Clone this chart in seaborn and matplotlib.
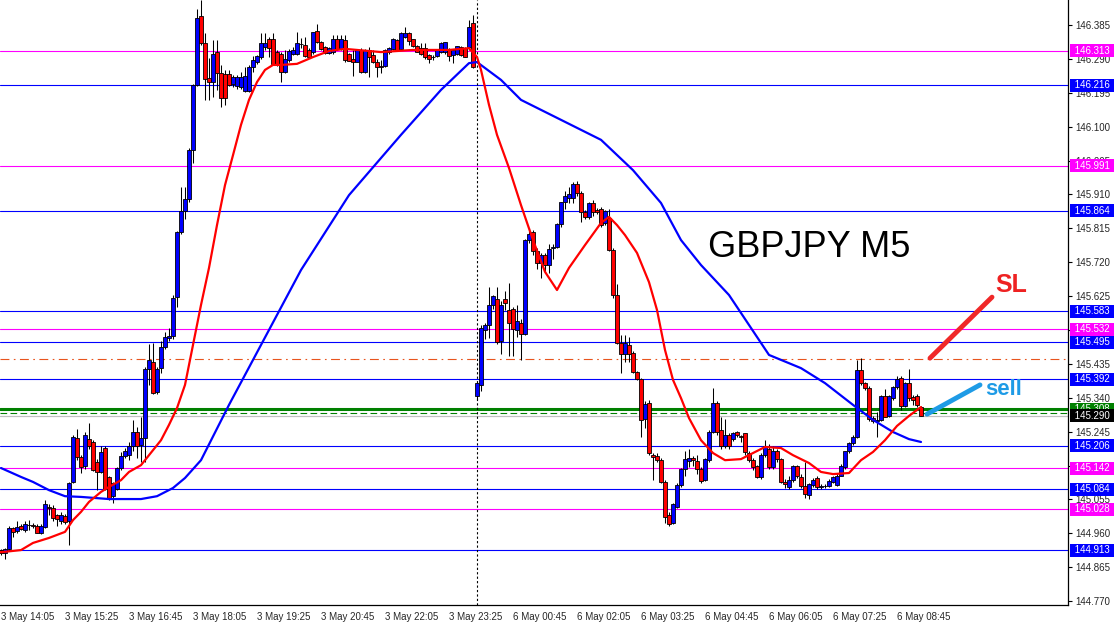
import numpy as np
import matplotlib
matplotlib.use("Agg")
import matplotlib.pyplot as plt
import matplotlib.transforms as mtransforms
import seaborn as sns

sns.set_style("white")
plt.rcParams["font.family"] = ["Liberation Sans", "DejaVu Sans"]

# GBPJPY M5 candles, 3 May 14:05 .. 6 May 09:15
opens = [
    144.912, 144.906, 144.915, 144.975, 144.966, 144.980, 144.970, 144.982, 144.983, 144.980,
    144.962, 144.978, 145.035, 145.030, 145.012, 144.995, 145.008, 144.995, 145.105, 145.228,
    145.175, 145.148, 145.225, 145.215, 145.160, 145.132, 145.200, 145.118, 145.065, 145.084,
    145.142, 145.178, 145.180, 145.205, 145.243, 145.208, 145.228, 145.420, 145.440, 145.355,
    145.423, 145.482, 145.508, 145.512, 145.622, 145.805, 145.864, 145.897, 146.035, 146.218,
    146.410, 146.335, 146.236, 146.226, 146.310, 146.249, 146.247, 146.248, 146.220, 146.214,
    146.210, 146.201, 146.201, 146.268, 146.282, 146.296, 146.322, 146.345, 146.345, 146.310,
    146.305, 146.254, 146.287, 146.303, 146.305, 146.332, 146.329, 146.315, 146.310, 146.369,
    146.338, 146.324, 146.307, 146.310, 146.345, 146.317, 146.343, 146.305, 146.291, 146.282,
    146.315, 146.254, 146.315, 146.301, 146.282, 146.270, 146.270, 146.310, 146.317, 146.343,
    146.317, 146.352, 146.362, 146.345, 146.326, 146.320, 146.320, 146.301, 146.294, 146.298,
    146.310, 146.310, 146.317, 146.300, 146.304, 146.324, 146.320, 146.324, 146.391, 145.345,
    145.375, 145.530, 145.545, 145.600, 145.618, 145.500, 145.618, 145.585, 145.588, 145.530,
    145.550, 145.520, 145.783, 145.805, 145.750, 145.718, 145.740, 145.712, 145.760, 145.763,
    145.827, 145.889, 145.900, 145.900, 145.938, 145.915, 145.860, 145.847, 145.887, 145.866,
    145.870, 145.830, 145.845, 145.755, 145.628, 145.493, 145.463, 145.487, 145.465, 145.412,
    145.392, 145.280, 145.325, 145.180, 145.178, 145.165, 145.105, 145.012, 144.990, 145.035,
    145.095, 145.140, 145.162, 145.170, 145.163, 145.140, 145.110, 145.165, 145.245, 145.325,
    145.250, 145.205, 145.235, 145.225, 145.245, 145.234, 145.240, 145.185, 145.165, 145.150,
    145.118, 145.180, 145.196, 145.145, 145.190, 145.168, 145.105, 145.090, 145.110, 145.148,
    145.118, 145.093, 145.068, 145.095, 145.115, 145.090, 145.093, 145.092, 145.104, 145.095,
    145.122, 145.145, 145.190, 145.212, 145.230, 145.418, 145.380, 145.368, 145.283, 145.276,
    145.278, 145.345, 145.290, 145.340, 145.370, 145.395, 145.318, 145.380, 145.343, 145.345,
    145.315,
]
highs = [
    144.916, 144.918, 144.980, 144.978, 144.995, 144.985, 144.995, 144.997, 144.990, 144.985,
    144.985, 145.053, 145.042, 145.040, 145.015, 145.020, 145.015, 145.105, 145.235, 145.252,
    145.180, 145.245, 145.269, 145.222, 145.167, 145.205, 145.205, 145.120, 145.105, 145.145,
    145.187, 145.200, 145.215, 145.278, 145.257, 145.286, 145.425, 145.490, 145.493, 145.425,
    145.500, 145.525, 145.535, 145.628, 145.808, 145.931, 145.931, 146.040, 146.220, 146.430,
    146.455, 146.362, 146.293, 146.343, 146.343, 146.273, 146.259, 146.259, 146.245, 146.245,
    146.254, 146.268, 146.273, 146.298, 146.300, 146.362, 146.362, 146.352, 146.362, 146.315,
    146.310, 146.315, 146.317, 146.324, 146.366, 146.348, 146.352, 146.320, 146.366, 146.388,
    146.340, 146.326, 146.324, 146.357, 146.357, 146.357, 146.357, 146.307, 146.315, 146.317,
    146.320, 146.317, 146.324, 146.315, 146.291, 146.287, 146.317, 146.324, 146.348, 146.345,
    146.366, 146.380, 146.366, 146.347, 146.328, 146.334, 146.334, 146.305, 146.301, 146.317,
    146.336, 146.338, 146.320, 146.315, 146.326, 146.326, 146.322, 146.399, 146.413, 145.385,
    145.545, 145.550, 145.650, 145.628, 145.650, 145.610, 145.640, 145.662, 145.595, 145.600,
    145.560, 145.785, 145.815, 145.810, 145.760, 145.745, 145.745, 145.770, 145.770, 145.830,
    145.890, 145.920, 145.930, 145.945, 145.948, 145.920, 145.865, 145.890, 145.895, 145.872,
    145.875, 145.866, 145.870, 145.760, 145.660, 145.515, 145.515, 145.510, 145.470, 145.415,
    145.395, 145.330, 145.335, 145.185, 145.185, 145.170, 145.110, 145.020, 145.045, 145.100,
    145.142, 145.190, 145.195, 145.178, 145.180, 145.145, 145.170, 145.250, 145.367, 145.330,
    145.285, 145.280, 145.240, 145.245, 145.248, 145.236, 145.242, 145.190, 145.170, 145.152,
    145.185, 145.222, 145.210, 145.205, 145.195, 145.170, 145.112, 145.120, 145.152, 145.152,
    145.125, 145.160, 145.100, 145.115, 145.120, 145.097, 145.098, 145.112, 145.122, 145.128,
    145.155, 145.192, 145.215, 145.235, 145.445, 145.451, 145.385, 145.372, 145.288, 145.300,
    145.348, 145.365, 145.348, 145.372, 145.400, 145.400, 145.385, 145.420, 145.348, 145.350,
    145.318,
]
lows = [
    144.898, 144.888, 144.912, 144.950, 144.962, 144.968, 144.965, 144.968, 144.975, 144.960,
    144.958, 144.975, 145.010, 144.995, 144.980, 144.985, 144.985, 144.927, 145.100, 145.165,
    145.128, 145.140, 145.195, 145.135, 145.080, 145.130, 145.082, 145.053, 145.045, 145.080,
    145.138, 145.170, 145.165, 145.190, 145.170, 145.160, 145.160, 145.376, 145.350, 145.350,
    145.410, 145.478, 145.500, 145.505, 145.595, 145.800, 145.840, 145.890, 145.998, 146.215,
    146.330, 146.175, 146.175, 146.184, 146.203, 146.156, 146.161, 146.214, 146.210, 146.205,
    146.205, 146.198, 146.198, 146.254, 146.275, 146.291, 146.315, 146.296, 146.273, 146.271,
    146.226, 146.249, 146.280, 146.300, 146.301, 146.320, 146.296, 146.294, 146.305, 146.334,
    146.315, 146.305, 146.304, 146.305, 146.315, 146.315, 146.282, 146.283, 146.242, 146.280,
    146.251, 146.251, 146.238, 146.278, 146.240, 146.251, 146.268, 146.305, 146.315, 146.312,
    146.315, 146.348, 146.329, 146.324, 146.308, 146.301, 146.291, 146.277, 146.287, 146.294,
    146.307, 146.305, 146.285, 146.277, 146.300, 146.299, 146.296, 146.315, 146.263, 145.335,
    145.360, 145.505, 145.508, 145.590, 145.490, 145.463, 145.585, 145.458, 145.458, 145.510,
    145.447, 145.515, 145.775, 145.740, 145.700, 145.676, 145.690, 145.690, 145.730, 145.760,
    145.820, 145.870, 145.885, 145.885, 145.905, 145.832, 145.840, 145.840, 145.850, 145.855,
    145.818, 145.825, 145.750, 145.620, 145.490, 145.410, 145.440, 145.440, 145.410, 145.390,
    145.230, 145.255, 145.180, 145.110, 145.160, 145.100, 144.990, 144.980, 144.985, 145.030,
    145.090, 145.120, 145.145, 145.150, 145.125, 145.100, 145.108, 145.160, 145.240, 145.235,
    145.195, 145.200, 145.195, 145.220, 145.230, 145.215, 145.180, 145.160, 145.138, 145.115,
    145.112, 145.175, 145.140, 145.140, 145.160, 145.100, 145.088, 145.085, 145.105, 145.115,
    145.088, 145.060, 145.055, 145.090, 145.085, 145.085, 145.088, 145.090, 145.100, 145.093,
    145.120, 145.140, 145.185, 145.208, 145.228, 145.375, 145.362, 145.275, 145.270, 145.230,
    145.275, 145.285, 145.285, 145.335, 145.365, 145.305, 145.315, 145.330, 145.320, 145.315,
    145.290,
]
closes = [
    144.906, 144.915, 144.975, 144.965, 144.978, 144.972, 144.985, 144.984, 144.981, 144.962,
    144.980, 145.042, 145.030, 145.003, 145.000, 145.012, 144.993, 145.100, 145.230, 145.175,
    145.145, 145.236, 145.205, 145.138, 145.132, 145.188, 145.085, 145.060, 145.100, 145.142,
    145.178, 145.190, 145.205, 145.243, 145.205, 145.228, 145.420, 145.445, 145.353, 145.420,
    145.482, 145.510, 145.512, 145.620, 145.805, 145.863, 145.897, 146.035, 146.218, 146.405,
    146.335, 146.234, 146.226, 146.305, 146.249, 146.179, 146.180, 146.217, 146.238, 146.238,
    146.240, 146.242, 146.268, 146.287, 146.298, 146.334, 146.335, 146.320, 146.276, 146.273,
    146.254, 146.289, 146.313, 146.315, 146.334, 146.331, 146.298, 146.296, 146.366, 146.336,
    146.317, 146.307, 146.320, 146.345, 146.317, 146.345, 146.287, 146.285, 146.282, 146.315,
    146.254, 146.315, 146.296, 146.280, 146.268, 146.268, 146.315, 146.321, 146.345, 146.315,
    146.362, 146.362, 146.341, 146.326, 146.310, 146.305, 146.296, 146.291, 146.295, 146.315,
    146.334, 146.336, 146.298, 146.315, 146.326, 146.301, 146.296, 146.380, 146.268, 145.380,
    145.536, 145.545, 145.600, 145.625, 145.496, 145.600, 145.605, 145.550, 145.532, 145.555,
    145.520, 145.783, 145.798, 145.750, 145.718, 145.740, 145.712, 145.757, 145.763, 145.827,
    145.889, 145.905, 145.912, 145.940, 145.915, 145.860, 145.847, 145.887, 145.860, 145.860,
    145.825, 145.864, 145.755, 145.628, 145.493, 145.462, 145.493, 145.463, 145.412, 145.392,
    145.277, 145.323, 145.185, 145.175, 145.166, 145.105, 145.005, 144.985, 145.042, 145.095,
    145.140, 145.168, 145.170, 145.165, 145.140, 145.108, 145.168, 145.245, 145.325, 145.243,
    145.205, 145.235, 145.205, 145.240, 145.235, 145.230, 145.188, 145.165, 145.145, 145.118,
    145.180, 145.205, 145.145, 145.190, 145.168, 145.105, 145.097, 145.110, 145.148, 145.120,
    145.093, 145.070, 145.098, 145.110, 145.090, 145.093, 145.092, 145.108, 145.118, 145.122,
    145.150, 145.190, 145.212, 145.230, 145.418, 145.382, 145.368, 145.280, 145.275, 145.278,
    145.345, 145.287, 145.345, 145.370, 145.392, 145.318, 145.380, 145.340, 145.335, 145.320,
    145.290,
]

# moving averages (bar index, price)
fast_ma_bar = [0, 5, 8, 12, 16, 18, 20, 22, 25, 27, 30, 32, 35, 37, 40, 42, 44, 46, 48, 50,
               52, 54, 56, 58, 60, 62, 64, 66, 68, 70, 74, 78, 82, 86, 95, 103, 112, 117, 119,
               120, 122, 124, 127, 130, 133, 136, 139, 142, 146, 150, 152, 154, 156, 159, 162,
               164, 166, 168, 170, 172, 175, 178, 181, 185, 188, 191, 195, 198, 202, 205, 208,
               212, 215, 218, 221, 224, 227, 230]
fast_ma = [144.907, 144.913, 144.933, 144.947, 144.964, 144.997, 145.020, 145.048, 145.076,
           145.090, 145.109, 145.132, 145.151, 145.179, 145.221, 145.264, 145.311, 145.376,
           145.488, 145.600, 145.704, 145.824, 145.936, 146.020, 146.105, 146.175, 146.225,
           146.259, 146.273, 146.273, 146.276, 146.295, 146.312, 146.318, 146.309, 146.315,
           146.315, 146.320, 146.295, 146.259, 146.161, 146.077, 145.984, 145.880, 145.782,
           145.693, 145.642, 145.704, 145.768, 145.830, 145.847, 145.824, 145.796, 145.746,
           145.664, 145.586, 145.474, 145.390, 145.339, 145.283, 145.221, 145.185, 145.165,
           145.168, 145.185, 145.202, 145.199, 145.179, 145.157, 145.132, 145.126, 145.129,
           145.165, 145.188, 145.221, 145.261, 145.289, 145.314]
slow_ma_bar = [0, 5, 8, 12, 16, 20, 27, 35, 39, 43, 46, 50, 57, 65, 75, 87, 100, 110, 117,
               119, 125, 130, 140, 150, 158, 165, 170, 175, 182, 187, 192, 200, 206, 213, 218,
               223, 227, 230]
slow_ma = [145.143, 145.118, 145.104, 145.081, 145.064, 145.062, 145.056, 145.056, 145.064,
           145.087, 145.115, 145.165, 145.320, 145.488, 145.698, 145.908, 146.077, 146.203,
           146.278, 146.281, 146.231, 146.175, 146.119, 146.063, 145.978, 145.886, 145.782,
           145.712, 145.628, 145.544, 145.460, 145.423, 145.381, 145.320, 145.278, 145.244,
           145.224, 145.216]

# horizontal levels with their right-hand price tags
blue_levels = [146.216, 145.864, 145.583, 145.495, 145.392, 145.206, 145.084, 144.913]
magenta_levels = [146.313, 145.991, 145.532, 145.142, 145.028]
open_price = 145.308
open_dashed = 145.297
bid_price = 145.290
stop_dashdot = 145.448

x_tick_labels = ["3 May 14:05", "3 May 15:25", "3 May 16:45", "3 May 18:05", "3 May 19:25",
                 "3 May 20:45", "3 May 22:05", "3 May 23:25", "6 May 00:45", "6 May 02:05",
                 "6 May 03:25", "6 May 04:45", "6 May 06:05", "6 May 07:25", "6 May 08:45"]
y_tick_values = [146.385, 146.290, 146.195, 146.100, 146.005, 145.910, 145.815, 145.720,
                 145.625, 145.530, 145.435, 145.340, 145.245, 145.150, 145.055, 144.960,
                 144.865, 144.770]

o, h, l, c = (np.array(v) for v in (opens, highs, lows, closes))
bars = np.arange(len(o))

fig = plt.figure(figsize=(11.14, 6.26), dpi=100)
ax = fig.add_axes([0, 21 / 626, 1068 / 1114, 605 / 626])

for p in blue_levels:
    ax.axhline(p, color="#0000ff", lw=0.8, zorder=1)
for p in magenta_levels:
    ax.axhline(p, color="#ff00ff", lw=0.8, zorder=1)
ax.axhline(stop_dashdot, color="#e8541e", lw=0.8, ls=(0, (8, 4, 1.5, 4)), zorder=1)
ax.axhline(bid_price, color="#c0c0c0", lw=0.9, zorder=1)
ax.axhline(open_dashed, color="#008000", lw=0.8, ls=(0, (6, 3)), zorder=1)
ax.axhline(open_price, color="#008000", lw=2.2, zorder=1)
ax.axvline(119, color="black", lw=0.8, ls=(0, (2, 2)), zorder=1)

# candles
up = c >= o
ax.vlines(bars, l, h, color="black", lw=0.75, zorder=3)
ax.bar(bars, np.maximum(np.abs(c - o), 0.0015), bottom=np.minimum(o, c), width=0.8,
       color=np.where(up, "#0000ff", "#ff0000"), edgecolor="black", linewidth=0.6, zorder=4)

sns.lineplot(x=slow_ma_bar, y=slow_ma, ax=ax, color="#0000ff", lw=1.6, zorder=5)
sns.lineplot(x=fast_ma_bar, y=fast_ma, ax=ax, color="#ff0000", lw=1.6, zorder=5)

# hand-drawn trade marks
ax.plot([232.25, 247.75], [145.451, 145.622], color="#f02828", lw=3.5, solid_capstyle="round", zorder=6)
ax.plot([231.5, 244.75], [145.294, 145.376], color="#1e9be6", lw=3.5, solid_capstyle="round", zorder=6)
ax.text(248.5, 145.656, "SL", color="#ee2222", fontsize=18, fontweight="bold", va="center", zorder=6)
ax.text(246, 145.362, "sell", color="#1e9be6", fontsize=16, fontweight="bold", va="center", zorder=6)
ax.text(176.75, 145.760, "GBPJPY M5", color="black", fontsize=26, va="center", zorder=6)

ax.set_xlim(-0.25, 266.75)
ax.set_ylim(144.759, 146.455)
ax.set_xlabel("")
ax.set_ylabel("")

ax.set_xticks(np.arange(len(x_tick_labels)) * 16)
ax.set_xticklabels(x_tick_labels, ha="left", fontsize=7)
ax.yaxis.tick_right()
ax.set_yticks(y_tick_values)
ax.set_yticklabels([f"{v:.3f}" for v in y_tick_values], fontsize=7)
ax.tick_params(axis="both", direction="out", length=3, width=0.8, color="black", pad=2)
for side in ("top", "left"):
    ax.spines[side].set_visible(False)
for side in ("right", "bottom"):
    ax.spines[side].set_color("black")
    ax.spines[side].set_linewidth(0.9)

tag = mtransforms.blended_transform_factory(ax.transAxes, ax.transData)
tags = ([(p, "#0000ff") for p in blue_levels] + [(p, "#ff00ff") for p in magenta_levels]
        + [(open_price, "#008000"), (bid_price, "#000000")])
for p, col in tags:
    ax.text(1.0035, p, f" {p:.3f} ", transform=tag, color="white", fontsize=7, va="center",
            ha="left", zorder=10, bbox=dict(boxstyle="square,pad=0.15", fc=col, ec="none"))

plt.savefig("out.png", dpi=100)
